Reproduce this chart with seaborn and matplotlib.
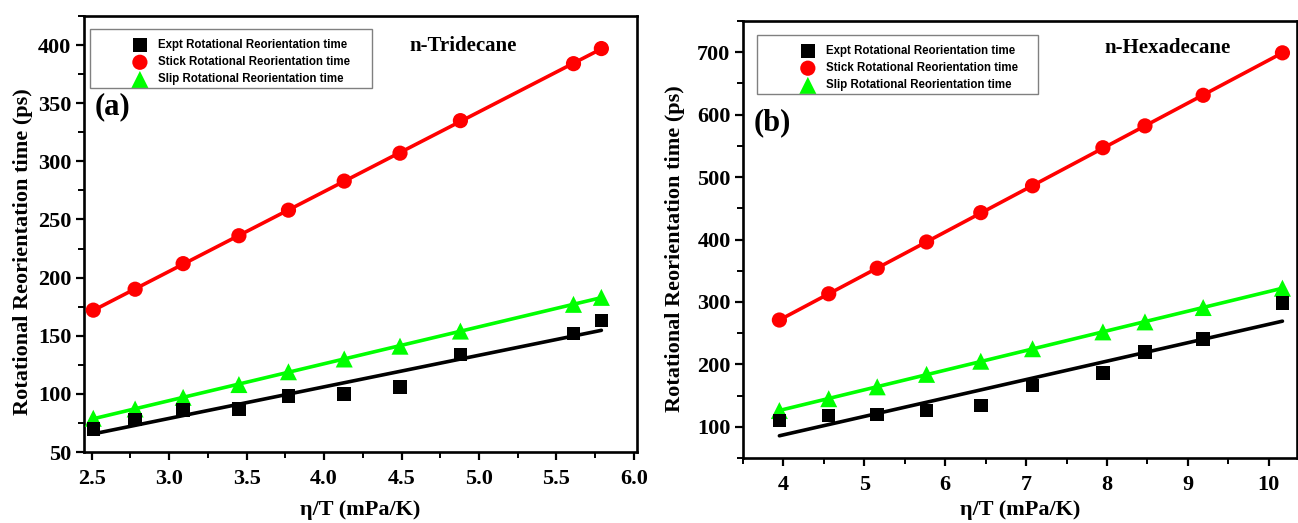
import matplotlib
matplotlib.use("Agg")
import matplotlib.pyplot as plt
import seaborn as sns
import pandas as pd
from matplotlib.patches import Rectangle
from matplotlib.ticker import MultipleLocator

# ---------------- data ----------------
tri_x = [2.51, 2.78, 3.09, 3.45, 3.77, 4.13, 4.49, 4.88, 5.61, 5.79]
tri_expt = [70, 78, 86, 87, 98, 100, 106, 134, 152, 163]
tri_stick = [172, 190, 212, 236, 258, 283, 307, 335, 384, 397]
tri_slip = [79, 87, 97, 108, 119, 130, 141, 154, 177, 183]

hex_x = [3.95, 4.56, 5.16, 5.77, 6.44, 7.08, 7.95, 8.47, 9.19, 10.17]
hex_expt = [110, 118, 120, 126, 134, 166, 186, 220, 241, 298]
hex_stick = [271, 313, 354, 396, 443, 486, 547, 582, 631, 699]
hex_slip = [126, 145, 164, 184, 205, 225, 252, 268, 291, 322]

series_labels = ["Expt Rotational Reorientation time",
                 "Stick Rotational Reorientation time",
                 "Slip Rotational Reorientation time"]
series_colors = ["#000000", "#ff0000", "#00ff00"]
series_markers = ["s", "o", "^"]
series_sizes = [95, 120, 150]

panel_titles = ["n-Tridecane", "n-Hexadecane"]
panel_tags = ["(a)", "(b)"]
xlabel = "η/T (mPa/K)"
ylabel = "Rotational Reorientation time (ps)"

sns.set_style("ticks")
plt.rcParams['font.family'] = ['Liberation Serif', 'DejaVu Serif']
plt.rcParams['font.weight'] = 'bold'
plt.rcParams['text.color'] = 'black'
plt.rcParams['axes.labelcolor'] = 'black'
plt.rcParams['xtick.color'] = 'black'
plt.rcParams['ytick.color'] = 'black'

fig = plt.figure(figsize=(12.98, 5.23), dpi=100)
ax1 = fig.add_axes([84/1298, (523-452)/523, 553/1298, 436/523])
ax2 = fig.add_axes([743/1298, (523-458)/523, 554/1298, 437/523])

panels = [
    (ax1, tri_x, [tri_expt, tri_stick, tri_slip], (2.45, 6.02), (50, 425), 0.5, 0.25, 50, 25),
    (ax2, hex_x, [hex_expt, hex_stick, hex_slip], (3.5, 10.35), (50, 750), 1, 0.5, 100, 50),
]

for i, (ax, xs, ys_list, xlim, ylim, xmaj, xmin, ymaj, ymin) in enumerate(panels):
    # linear-fit lines first
    for ys, col in zip(ys_list, series_colors):
        df = pd.DataFrame({"x": xs, "y": ys})
        sns.regplot(data=df, x="x", y="y", ax=ax, scatter=False, ci=None,
                    color=col, line_kws={"linewidth": 2.6, "zorder": 2})
    # markers
    for j in [2, 1, 0]:
        df = pd.DataFrame({"x": xs, "y": ys_list[j]})
        sns.scatterplot(data=df, x="x", y="y", ax=ax, color=series_colors[j],
                        marker=series_markers[j], s=series_sizes[j],
                        edgecolor="none", linewidth=0, zorder=3 + (2 - j),
                        label=series_labels[j])
    ax.set_xlim(*xlim)
    ax.set_ylim(*ylim)
    ax.xaxis.set_major_locator(MultipleLocator(xmaj))
    ax.xaxis.set_minor_locator(MultipleLocator(xmin))
    ax.yaxis.set_major_locator(MultipleLocator(ymaj))
    ax.yaxis.set_minor_locator(MultipleLocator(ymin))
    if i == 0:
        ax.xaxis.set_major_formatter(matplotlib.ticker.FormatStrFormatter('%.1f'))
    for sp in ax.spines.values():
        sp.set_linewidth(1.9)
        sp.set_color("black")
        sp.set_visible(True)
    ax.tick_params(which='major', direction='out', length=6, width=1.6,
                   labelsize=16, colors='black')
    ax.tick_params(which='minor', direction='out', length=4, width=1.4, colors='black')
    ax.tick_params(axis='x', which='major', pad=6)
    ax.tick_params(axis='y', which='major', pad=3)
    ax.tick_params(axis='y', which='minor', left=True)
    ax.tick_params(axis='x', which='minor', bottom=True)
    for lab in ax.get_xticklabels() + ax.get_yticklabels():
        lab.set_fontweight('bold')
    ax.set_ylabel(ylabel, fontsize=16, fontweight='bold')
    ax.grid(False)

    # legend
    handles, labels = ax.get_legend_handles_labels()
    order = [labels.index(l) for l in series_labels]
    handles = [handles[k] for k in order]
    labels = [labels[k] for k in order]
    if i == 0:
        anchor = (0.087, 0.947)
        box = (0.011, 0.836, 0.51, 0.134)
        tx, ty = 0.685, 0.955
        tgx, tgy = 0.02, 0.825
        ax.yaxis.set_label_coords(-0.093, 0.46)
        ax.set_xlabel(xlabel, fontsize=16, fontweight='bold', labelpad=8)
    else:
        anchor = (0.103, 0.945)
        box = (0.025, 0.834, 0.508, 0.135)
        tx, ty = 0.767, 0.96
        tgx, tgy = 0.02, 0.80
        ax.yaxis.set_label_coords(-0.104, 0.48)
        ax.set_xlabel(xlabel, fontsize=16, fontweight='bold', labelpad=4)
    leg = ax.legend(handles, labels, loc='upper left', bbox_to_anchor=anchor,
                    frameon=False, borderpad=0, borderaxespad=0,
                    handlelength=1.35, handletextpad=0.9, labelspacing=0.45,
                    prop={'family': ['Liberation Sans', 'DejaVu Sans'],
                          'weight': 'bold', 'size': 8.3})
    ax.add_patch(Rectangle((box[0], box[1]), box[2], box[3], transform=ax.transAxes,
                           fill=False, edgecolor="#808080", linewidth=1.0, zorder=6))
    ax.text(tx, ty, panel_titles[i], transform=ax.transAxes, ha='center', va='top',
            fontsize=15, fontweight='bold', color='black')
    ax.text(tgx, tgy, panel_tags[i], transform=ax.transAxes, ha='left', va='top',
            fontsize=22, fontweight='bold', color='black')

fig.savefig("out.png", dpi=100)
